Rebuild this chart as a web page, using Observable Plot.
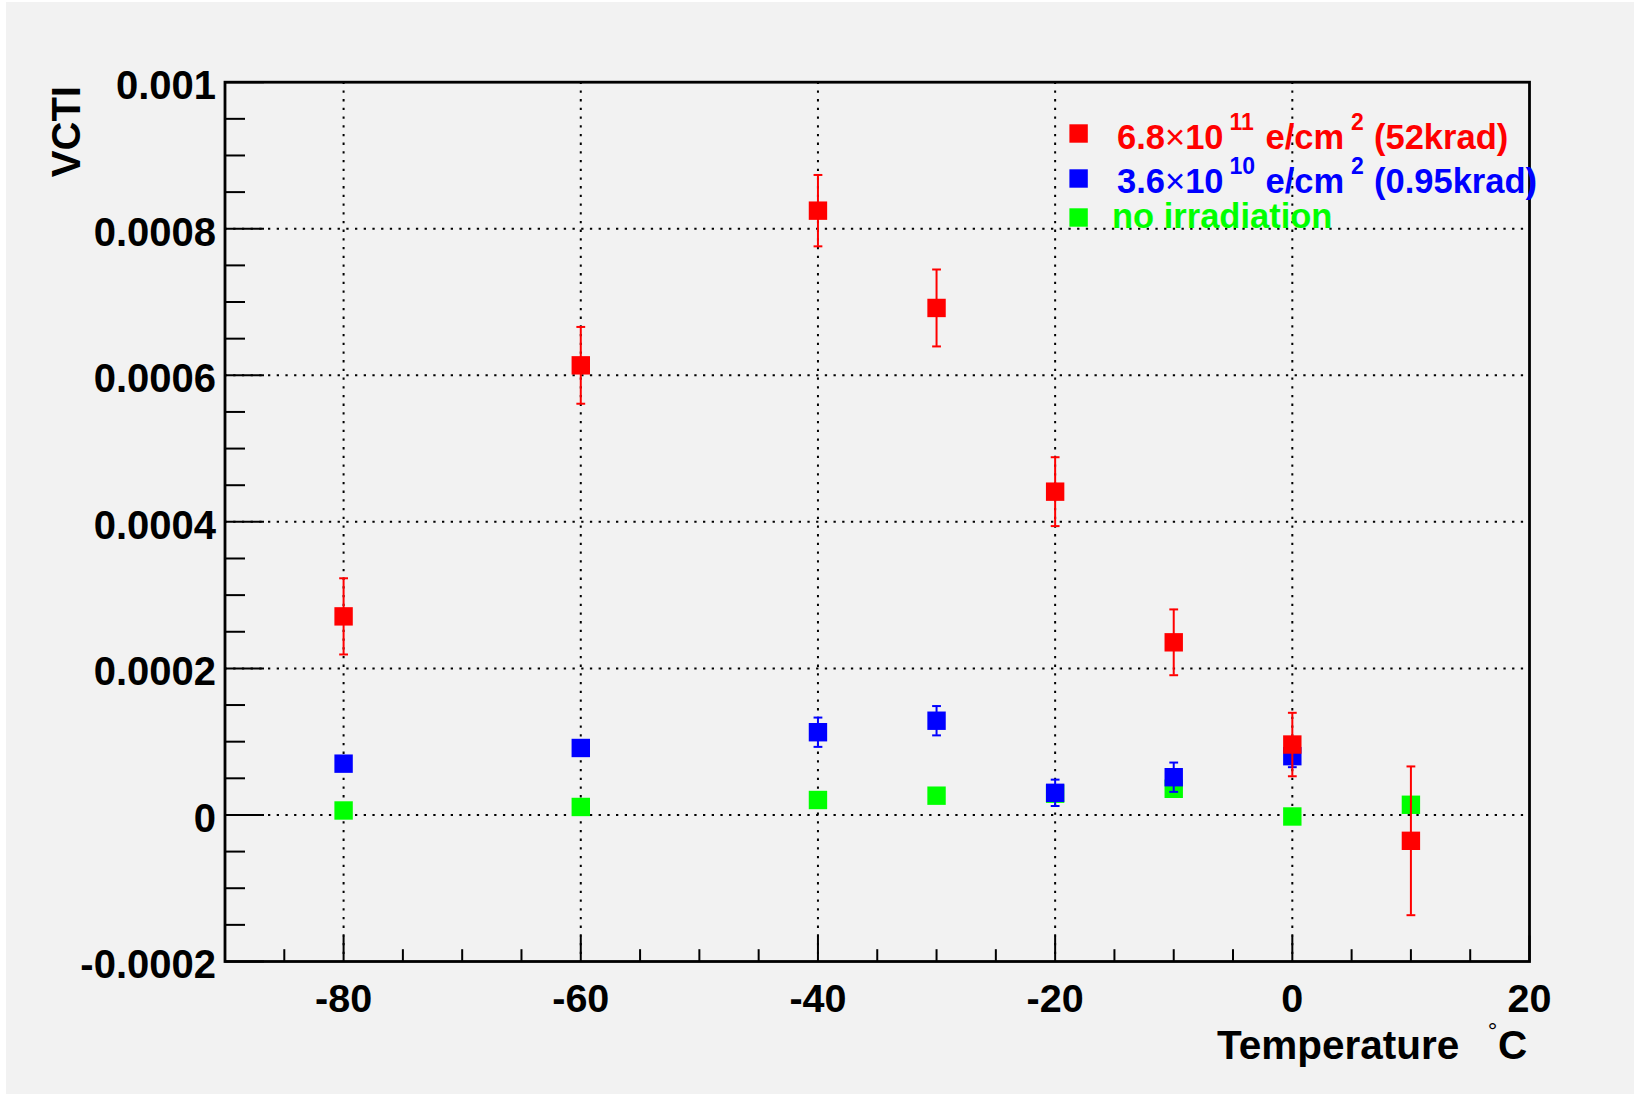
<!DOCTYPE html>
<html>
<head>
<meta charset="utf-8">
<script src="https://cdn.jsdelivr.net/npm/d3@7"></script>
<script src="https://cdn.jsdelivr.net/npm/@observablehq/plot@0.6"></script>
<style>
  html, body { margin: 0; padding: 0; background: #ffffff; }
  #wrap { position: relative; width: 1634px; height: 1094px; overflow: hidden; }
  #bg { position: absolute; left: 6px; top: 2px; width: 1628px; height: 1092px; background: #f2f2f2; }
  #chart { position: absolute; left: 0; top: 0; }
  #over { position: absolute; left: 0; top: 0; }
  text { font-family: "Liberation Sans", Arial, Helvetica, sans-serif; }
</style>
</head>
<body>
<div id="wrap"><div id="bg"></div><div id="chart"></div><svg id="over" width="1634" height="1094"></svg></div>
<script>
// ---- data ----
const temps      = [-80, -60, -40, -30, -20, -10, 0, 10];
const redVals    = [0.000271, 0.0006136, 0.0008247, 0.0006919, 0.0004412, 0.0002356, 0.0000961, -0.0000353];
const redErrs    = [0.000052, 0.0000524, 0.0000487, 0.0000525, 0.000047, 0.0000449, 0.0000433, 0.0001015];
const blueTemps  = [-80, -60, -40, -30, -20, -10, 0];
const blueVals   = [0.00007, 0.0000914, 0.0001129, 0.0001286, 0.0000302, 0.0000515, 0.0000802];
const blueErrs   = [0.00001, 0.00001, 0.00002, 0.00002, 0.000018, 0.00002, 0.000015];
const greenVals  = [0.0000061, 0.0000109, 0.0000204, 0.0000263, 0.000029, 0.0000357, -0.0000021, 0.0000139];
const greenErrs  = [0.000004, 0.000004, 0.000004, 0.000004, 0.000004, 0.000004, 0.000004, 0.000004];

const xMajor = [-80, -60, -40, -20, 0, 20];
const xMinor = [-85, -75, -70, -65, -55, -50, -45, -35, -30, -25, -15, -10, -5, 5, 10, 15];
const yMajor = [-0.0002, 0, 0.0002, 0.0004, 0.0006, 0.0008, 0.001];
const yMinor = [-0.00015, -0.0001, -0.00005, 0.00005, 0.0001, 0.00015, 0.00025, 0.0003, 0.00035,
                0.00045, 0.0005, 0.00055, 0.00065, 0.0007, 0.00075, 0.00085, 0.0009, 0.00095];
const xGrid = [-80, -60, -40, -20, 0];
const yGrid = [0, 0.0002, 0.0004, 0.0006, 0.0008];

const colors = {red: "#ff0000", blue: "#0000ff", green: "#00ff00"};

const rows = (xs, vs, es) => xs.map((t, i) => ({t, v: vs[i], e: es[i]}));
const redRows = rows(temps, redVals, redErrs);
const blueRows = rows(blueTemps, blueVals, blueErrs);
const greenRows = rows(temps, greenVals, greenErrs);

// custom symbols
const tickUp = (len) => ({draw(ctx) { ctx.moveTo(0, 0); ctx.lineTo(0, -len); }});
const tickRight = (len) => ({draw(ctx) { ctx.moveTo(0, 0); ctx.lineTo(len, 0); }});
const capSym = {draw(ctx) { ctx.moveTo(-4.4, 0); ctx.lineTo(4.4, 0); }};
const squareSym = {draw(ctx) { ctx.rect(-9.2, -9.2, 18.4, 18.4); }};

function series(data, color) {
  return [
    Plot.ruleX(data, {x: "t", y1: d => d.v - d.e, y2: d => d.v + d.e, stroke: color, strokeWidth: 2}),
    Plot.dot(data, {x: "t", y: d => d.v + d.e, symbol: capSym, stroke: color, strokeWidth: 2, fill: "none"}),
    Plot.dot(data, {x: "t", y: d => d.v - d.e, symbol: capSym, stroke: color, strokeWidth: 2, fill: "none"}),
    Plot.dot(data, {x: "t", y: "v", symbol: squareSym, fill: color, stroke: "none"})
  ];
}

const dotted = {stroke: "black", strokeWidth: 2, strokeDasharray: "2.3,6.4"};

const chart = Plot.plot({
  width: 1634,
  height: 1094,
  marginLeft: 224.5,
  marginRight: 105,
  marginTop: 81.7,
  marginBottom: 133,
  style: {background: "transparent", fontFamily: "Liberation Sans, Arial, sans-serif"},
  x: {domain: [-90, 20]},
  y: {domain: [-0.0002, 0.001]},
  marks: [
    Plot.ruleX(xGrid, dotted),
    Plot.ruleY(yGrid, dotted),
    Plot.axisX({ticks: xMajor, tickSize: 0, tickPadding: 22, tickFormat: d => String(d),
                fontSize: 39.5, fontWeight: "bold", fill: "black", label: null}),
    Plot.axisY({ticks: yMajor, tickSize: 0, tickPadding: 9, tickFormat: d => String(d),
                fontSize: 40, fontWeight: "bold", fill: "black", label: null, dy: 4}),
    Plot.dotX(xMajor, {x: d => d, frameAnchor: "bottom", symbol: tickUp(26), stroke: "black", strokeWidth: 2, fill: "none"}),
    Plot.dotX(xMinor, {x: d => d, frameAnchor: "bottom", symbol: tickUp(12.3), stroke: "black", strokeWidth: 2, fill: "none"}),
    Plot.dotY(yMajor, {y: d => d, frameAnchor: "left", symbol: tickRight(39), stroke: "black", strokeWidth: 2, fill: "none"}),
    Plot.dotY(yMinor, {y: d => d, frameAnchor: "left", symbol: tickRight(20), stroke: "black", strokeWidth: 2, fill: "none"}),
    ...series(greenRows, colors.green),
    ...series(blueRows, colors.blue),
    ...series(redRows, colors.red),
    Plot.frame({stroke: "black", strokeWidth: 2.8})
  ]
});
document.getElementById("chart").appendChild(chart);

// ---- overlay: axis titles and legend ----
const over = d3.select("#over");
const bold = "bold";

over.append("text").attr("transform", "translate(80,86) rotate(-90)").attr("text-anchor", "end")
  .attr("font-size", 40).attr("font-weight", bold).attr("fill", "black").text("VCTI");

over.append("text").attr("x", 1217).attr("y", 1059.3).attr("font-size", 40.5).attr("font-weight", bold)
  .attr("fill", "black").text("Temperature");
over.append("text").attr("x", 1492.5).attr("y", 1039).attr("text-anchor", "middle").attr("font-size", 24)
  .attr("fill", "black").text("°");
over.append("text").attr("x", 1498).attr("y", 1059.3).attr("font-size", 40.5).attr("font-weight", bold)
  .attr("fill", "black").text("C");

const legendEntries = [
  {color: colors.red, cy: 133.5, base: 149.3, pre: "6.8", exp: "11", tail: "(52krad)"},
  {color: colors.blue, cy: 178.5, base: 193.3, pre: "3.6", exp: "10", tail: "(0.95krad)"}
];
const fs = 34.5, fsSup = 23;
legendEntries.forEach(e => {
  over.append("rect").attr("x", 1078.6 - 9.2).attr("y", e.cy - 9.2).attr("width", 18.4).attr("height", 18.4).attr("fill", e.color);
  const t = over.append("text").attr("x", 1117).attr("y", e.base).attr("font-size", fs).attr("font-weight", bold).attr("fill", e.color);
  t.append("tspan").text(e.pre);
  t.append("tspan").attr("font-weight", "normal").text("\u00d7");
  t.append("tspan").text("10");
  over.append("text").attr("x", 1229.5).attr("y", e.base - 19.5).attr("font-size", fsSup).attr("font-weight", bold).attr("fill", e.color).text(e.exp);
  over.append("text").attr("x", 1265.5).attr("y", e.base).attr("font-size", fs).attr("font-weight", bold).attr("fill", e.color).text("e/cm");
  over.append("text").attr("x", 1351).attr("y", e.base - 19.5).attr("font-size", fsSup).attr("font-weight", bold).attr("fill", e.color).text("2");
  over.append("text").attr("x", 1374).attr("y", e.base).attr("font-size", fs).attr("font-weight", bold).attr("fill", e.color).text(e.tail);
});
over.append("rect").attr("x", 1078.6 - 9.2).attr("y", 217.5 - 9.2).attr("width", 18.4).attr("height", 18.4).attr("fill", colors.green);
over.append("text").attr("x", 1112).attr("y", 227.7).attr("font-size", fs).attr("font-weight", bold).attr("fill", colors.green).text("no irradiation");
</script>
</body>
</html>
